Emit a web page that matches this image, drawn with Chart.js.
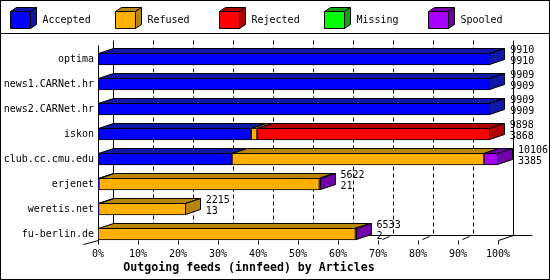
<!DOCTYPE html>
<html>
<head>
<meta charset="utf-8">
<script src="https://cdn.jsdelivr.net/npm/chart.js@4.4.1/dist/chart.umd.min.js"></script>
<style>
  html, body { margin: 0; padding: 0; background: #fff; }
</style>
</head>
<body>
<canvas id="feedChart" width="550" height="280"></canvas>
<script>
// feeds and article counts
const categories = ["optima", "news1.CARNet.hr", "news2.CARNet.hr", "iskon",
                    "club.cc.cmu.edu", "erjenet", "weretis.net", "fu-berlin.de"];
const accepted = [9910, 9909, 9909, 3868, 3385, 21, 13, 2];
const refused  = [0, 0, 0, 150, 6367, 5571, 2202, 6501];
const rejected = [0, 0, 0, 5880, 0, 0, 0, 0];
const missing  = [0, 0, 0, 0, 0, 0, 0, 0];
const spooled  = [0, 0, 0, 0, 354, 30, 0, 30];

const seriesNames = ["Accepted", "Refused", "Rejected", "Missing", "Spooled"];
const frontColors = ["#0000ff", "#ffb000", "#ff0000", "#00ff00", "#a800ff"];
const darkColors  = ["#1018a8", "#b8860b", "#b00000", "#10a010", "#7000a8"];

const series = [accepted, refused, rejected, missing, spooled];
const totals = categories.map((c, j) => series.reduce((s, arr) => s + arr[j], 0));
const maxTotal = Math.max(...totals);

const DX = 15, DY = 5;

function face(ctx, pts, fill) {
    ctx.beginPath();
    ctx.moveTo(pts[0][0], pts[0][1]);
    for (let k = 1; k < pts.length; k++) ctx.lineTo(pts[k][0], pts[k][1]);
    ctx.closePath();
    ctx.fillStyle = fill;
    ctx.fill();
    ctx.strokeStyle = "#000";
    ctx.lineWidth = 1;
    ctx.stroke();
}

function line(ctx, x1, y1, x2, y2) {
    ctx.beginPath();
    ctx.moveTo(x1, y1);
    ctx.lineTo(x2, y2);
    ctx.stroke();
}

// back wall, grid and floor
const wallPlugin = {
    id: "wall",
    beforeDatasetsDraw(chart) {
        const ctx = chart.ctx;
        const a = chart.chartArea;
        const xs = chart.scales.x;
        const frontBottom = a.bottom - 6;
        const backBottom = frontBottom - DY;
        const frontTop = a.top - 1;
        const backTop = frontTop - DY;
        const lastK = xs.ticks.length - 1;
        ctx.save();
        ctx.strokeStyle = "#000";
        ctx.lineWidth = 1;
        xs.ticks.forEach((t, k) => {
            const fx = Math.round(xs.getPixelForValue(t.value)) + 0.5;
            const bx = fx + DX;
            ctx.setLineDash(k === 0 || k === lastK ? [] : [4, 3]);
            line(ctx, bx, backTop, bx, backBottom);
            ctx.setLineDash([]);
            if (k === lastK) {
                line(ctx, fx, frontBottom, bx, backBottom);
            } else if (k > 0) {
                // short floor stub, mostly hidden in the original
                line(ctx, fx + 4, frontBottom - 1, fx + 11, backBottom + 1);
            }
            line(ctx, fx, frontBottom, fx, frontBottom + 4);
        });
        const x0 = Math.round(xs.getPixelForValue(0)) + 0.5;
        const x1 = Math.round(xs.getPixelForValue(maxTotal)) + 0.5;
        line(ctx, x0 + DX, backBottom, x1 + DX + 19, backBottom);
        line(ctx, x0, frontTop, x0, frontBottom);
        line(ctx, x0 - DX, frontBottom + 4, x0, frontBottom);
        ctx.restore();
    },
    afterDatasetsDraw(chart) {
        const ctx = chart.ctx;
        const xs = chart.scales.x;
        ctx.save();
        categories.forEach((cat, j) => {
            let last = null;
            chart.data.datasets.forEach((ds, i) => {
                const p = chart.getDatasetMeta(i).data[j].getProps(["x", "base", "y", "height"], true);
                const s = Math.min(p.x, p.base), e = Math.max(p.x, p.base);
                if (e - s < 0.5) return;
                const top = Math.round(p.y - p.height / 2) + 0.5;
                const bottom = Math.round(p.y + p.height / 2) - 0.5;
                const l = Math.round(s) + 0.5, r = Math.round(e) - 0.5;
                face(ctx, [[l, top], [r, top], [r + DX, top - DY], [l + DX, top - DY]], darkColors[i]);
                last = { r, top, bottom, i };
            });
            if (last) {
                face(ctx, [[last.r, last.top], [last.r + DX, last.top - DY],
                           [last.r + DX, last.bottom - DY], [last.r, last.bottom]], darkColors[last.i]);
            }
            // total and accepted numbers to the right
            const lx = xs.getPixelForValue(totals[j]) + DX + 5;
            const cy = chart.scales.y.getPixelForValue(j);
            ctx.fillStyle = "#000";
            ctx.font = "10px 'DejaVu Sans Mono'";
            ctx.textAlign = "left";
            ctx.textBaseline = "middle";
            ctx.fillText(String(totals[j]), lx, cy - 9);
            ctx.fillText(String(accepted[j]), lx, cy + 2);
        });
        ctx.restore();
    },
    afterDraw(chart) {
        const ctx = chart.ctx;
        ctx.save();
        ctx.strokeStyle = "#000";
        ctx.lineWidth = 1;
        ctx.strokeRect(0.5, 0.5, 549, 279);
        ctx.strokeRect(0.5, 0.5, 549, 33);
        // legend with little cubes
        ctx.font = "10px 'DejaVu Sans Mono'";
        ctx.textBaseline = "middle";
        ctx.textAlign = "left";
        chart.data.datasets.forEach((ds, i) => {
            const bx = 10.5 + Math.round(i * 104.5);
            const by = 11.5, w = 20, h = 17, dx = 6, dy = 4;
            face(ctx, [[bx, by], [bx + w, by], [bx + w + dx, by - dy], [bx + dx, by - dy]], ds.darkColor);
            face(ctx, [[bx + w, by], [bx + w + dx, by - dy], [bx + w + dx, by + h - dy], [bx + w, by + h]], ds.darkColor);
            face(ctx, [[bx, by], [bx + w, by], [bx + w, by + h], [bx, by + h]], ds.backgroundColor);
            ctx.fillStyle = "#000";
            ctx.fillText(ds.label, bx + 32, 20);
        });
        ctx.restore();
    }
};

const ctx = document.getElementById("feedChart");

new Chart(ctx, {
    type: "bar",
    data: {
        labels: categories,
        datasets: seriesNames.map((name, i) => ({
            label: name,
            data: series[i],
            backgroundColor: frontColors[i],
            darkColor: darkColors[i],
            borderColor: "#000",
            borderWidth: 1,
            borderSkipped: false,
            barThickness: 12
        }))
    },
    options: {
        indexAxis: "y",
        responsive: false,
        animation: false,
        events: [],
        layout: {
            padding: { top: 46.5, bottom: 5, left: 0, right: 52 }
        },
        scales: {
            x: {
                stacked: true,
                min: 0,
                max: maxTotal,
                grid: { display: false, drawTicks: false },
                border: { display: false },
                afterBuildTicks(scale) {
                    scale.ticks = [];
                    for (let k = 0; k <= 10; k++) scale.ticks.push({ value: k * maxTotal / 10 });
                },
                afterFit(scale) { scale.height = 12.5; },
                ticks: {
                    color: "#000",
                    font: { family: "DejaVu Sans Mono", size: 10 },
                    padding: 2,
                    maxRotation: 0,
                    autoSkip: false,
                    callback: (v) => Math.round(v / maxTotal * 100) + "%"
                }
            },
            y: {
                stacked: true,
                grid: { display: false, drawTicks: false },
                border: { display: false },
                afterFit(scale) { scale.width = 98; },
                ticks: {
                    color: "#000",
                    font: { family: "DejaVu Sans Mono", size: 10 },
                    padding: 4
                }
            }
        },
        plugins: {
            legend: { display: false },
            tooltip: { enabled: false },
            title: {
                display: true,
                position: "bottom",
                text: "Outgoing feeds (innfeed) by Articles",
                color: "#000",
                font: { family: "DejaVu Sans Mono", size: 11.6, weight: "bold", lineHeight: "14px" },
                padding: { top: 2, bottom: 0 }
            }
        }
    },
    plugins: [wallPlugin]
});
</script>
</body>
</html>
